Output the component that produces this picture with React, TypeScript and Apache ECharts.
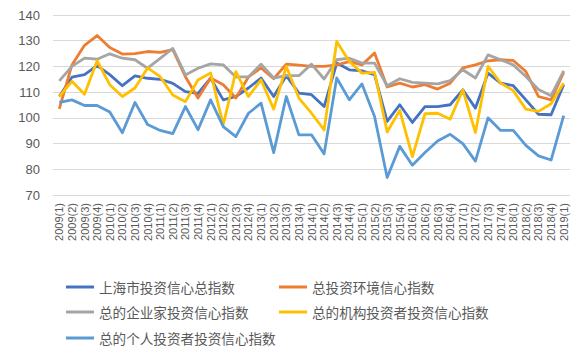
import React, { useEffect, useRef } from "react";
import * as echarts from "echarts";

const categories: string[] = [];
for (let y = 2009; y <= 2018; y++) for (let q = 1; q <= 4; q++) categories.push(`${y}(${q})`);
categories.push("2019(1)");

const seriesNames = [
  "上海市投资信心总指数",
  "总投资环境信心指数",
  "总的企业家投资信心指数",
  "总的机构投资者投资信心指数",
  "总的个人投资者投资信心指数",
];

const shanghaiTotal = [108.3, 115.8, 116.8, 120.3, 116.8, 112.5, 116.3, 115.4, 115.0, 113.4, 110.2, 109.5, 115.4, 107.0, 108.3, 111.6, 115.5, 108.3, 116.4, 109.6, 109.0, 104.4, 121.3, 118.7, 118.3, 116.8, 98.6, 105.1, 98.2, 104.4, 104.4, 105.1, 110.9, 103.8, 117.4, 113.5, 112.5, 107.0, 101.4, 101.2, 112.9];
const environment = [103.5, 120.6, 128.2, 132.0, 127.4, 124.8, 125.0, 125.8, 125.5, 126.5, 116.0, 107.7, 115.5, 112.9, 107.7, 115.9, 119.4, 115.2, 120.9, 120.5, 120.0, 120.0, 120.6, 121.9, 120.6, 125.2, 112.0, 113.5, 112.0, 112.9, 111.2, 113.5, 119.4, 120.6, 122.2, 122.6, 122.3, 118.0, 108.3, 107.0, 117.7];
const entrepreneur = [114.4, 120.0, 123.2, 122.8, 124.9, 123.2, 122.6, 119.3, 123.1, 127.0, 116.7, 119.3, 121.0, 120.6, 115.9, 115.9, 120.9, 115.5, 116.4, 116.4, 120.9, 115.1, 122.6, 123.2, 121.3, 121.3, 112.5, 115.2, 113.8, 113.5, 113.2, 114.5, 118.7, 115.5, 124.5, 122.6, 120.6, 116.1, 111.0, 108.6, 118.3];
const institutional = [108.3, 114.2, 109.2, 122.2, 112.9, 108.3, 111.6, 119.4, 116.0, 108.9, 106.3, 114.7, 117.5, 97.3, 118.0, 108.3, 114.8, 103.4, 120.0, 107.7, 101.8, 95.3, 129.7, 121.9, 117.4, 117.7, 94.5, 102.9, 84.9, 101.6, 101.8, 99.5, 110.9, 94.3, 120.0, 113.5, 110.6, 103.4, 102.5, 105.5, 113.5];
const individual = [106.0, 107.0, 104.8, 104.8, 102.3, 94.2, 106.0, 97.4, 95.1, 93.9, 104.4, 95.4, 107.0, 96.6, 92.7, 101.8, 105.7, 86.5, 108.3, 93.4, 93.4, 86.0, 115.5, 107.0, 113.2, 100.5, 76.8, 88.9, 81.6, 86.5, 91.0, 93.6, 90.0, 83.2, 100.0, 95.1, 95.1, 89.3, 85.2, 83.6, 100.9];

const allData = [shanghaiTotal, environment, entrepreneur, institutional, individual];
const colors = ["#4472C4", "#ED7D31", "#A5A5A5", "#FFC000", "#5B9BD5"];
const legendPos = [
  { left: 66, top: 278 },
  { left: 279, top: 278 },
  { left: 66, top: 303 },
  { left: 279, top: 303 },
  { left: 66, top: 329 },
];

export default function App() {
  const ref = useRef<HTMLDivElement>(null);
  useEffect(() => {
    if (!ref.current) return;
    const chart = echarts.init(ref.current, null, { renderer: "svg" });
    chart.setOption({
      animation: false,
      color: colors,
      grid: { left: 53, right: 14, top: 15, bottom: 157, containLabel: false },
      legend: seriesNames.map((n, i) => ({
        data: [n],
        left: legendPos[i].left,
        top: legendPos[i].top,
        padding: 0,
        icon: "rect",
        itemWidth: 28,
        itemHeight: 3,
        itemGap: 0,
        textStyle: { fontSize: 13.6, lineHeight: 18, color: "#595959", fontFamily: "'Noto Sans CJK SC'" },
        selectedMode: false,
      })),
      xAxis: {
        type: "category",
        data: categories,
        boundaryGap: true,
        axisLine: { show: false },
        axisTick: { show: false },
        axisLabel: {
          rotate: 90,
          interval: 0,
          fontSize: 11,
          color: "#595959",
          fontFamily: "'Liberation Sans', Arial, sans-serif",
          margin: 8,
        },
      },
      yAxis: {
        type: "value",
        min: 70,
        max: 140,
        interval: 10,
        axisLine: { show: false },
        axisTick: { show: false },
        splitLine: { lineStyle: { color: "#D9D9D9", width: 1 } },
        axisLabel: {
          fontSize: 13,
          color: "#595959",
          fontFamily: "'Liberation Sans', Arial, sans-serif",
          margin: 13,
        },
      },
      series: seriesNames.map((n, i) => ({
        name: n,
        type: "line",
        data: allData[i],
        symbol: "none",
        lineStyle: { width: 2.8, color: colors[i], join: "round" },
        itemStyle: { color: colors[i] },
      })),
    });
    return () => chart.dispose();
  }, []);
  return <div ref={ref} style={{ position: "absolute", left: 0, top: 0, width: 584, height: 352 }} />;
}
